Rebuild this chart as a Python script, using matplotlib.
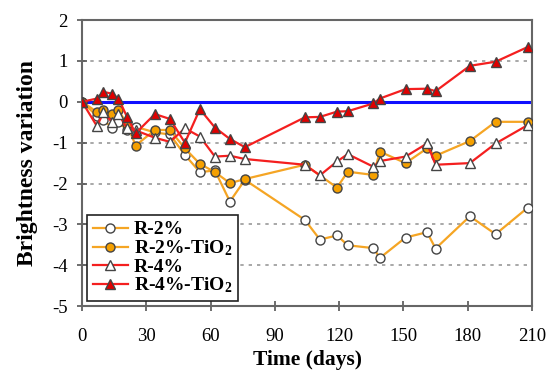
import matplotlib
matplotlib.use("Agg")
import matplotlib.pyplot as plt

plt.rcParams['font.family'] = ['Liberation Serif', 'DejaVu Serif']
plt.rcParams['mathtext.fontset'] = 'custom'
plt.rcParams['mathtext.rm'] = 'Liberation Serif'
plt.rcParams['mathtext.bf'] = 'Liberation Serif:bold'
plt.rcParams['mathtext.default'] = 'bf'
plt.rcParams['axes.unicode_minus'] = False

# data
days = [0, 7, 10, 14, 17, 21, 25, 34, 41, 48, 55, 62, 69, 76,
        104, 111, 119, 124, 136, 139, 151, 161, 165, 181, 193, 208]
days_tio2 = [0, 7, 10, 14, 17, 21, 25, 34, 41, 48, 55, 62, 69, 76,
             104, 119, 124, 136, 139, 151, 161, 165, 181, 193, 208]

r2 = [0, -0.35, -0.45, -0.63, -0.5, -0.69, -0.61, -0.75, -0.8, -1.3, -1.72, -1.68, -2.44, -1.91,
      -2.89, -3.37, -3.27, -3.51, -3.58, -3.82, -3.32, -3.19, -3.59, -2.8, -3.24, -2.59]
r2_tio2 = [0, -0.25, -0.2, -0.3, -0.2, -0.55, -1.07, -0.69, -0.69, -1.14, -1.52, -1.72, -1.99, -1.89,
           -1.54, -2.1, -1.71, -1.79, -1.22, -1.5, -1.14, -1.32, -0.96, -0.49, -0.49]
r4 = [0, -0.6, -0.25, -0.5, -0.3, -0.65, -0.7, -0.88, -0.98, -0.65, -0.85, -1.34, -1.32, -1.4,
      -1.54, -1.8, -1.46, -1.28, -1.59, -1.45, -1.34, -1.02, -1.54, -1.5, -1.02, -0.57]
r4_tio2 = [0, 0.08, 0.24, 0.2, 0.08, -0.37, -0.77, -0.3, -0.42, -1.0, -0.18, -0.63, -0.91, -1.11,
           -0.38, -0.37, -0.24, -0.23, -0.04, 0.08, 0.31, 0.32, 0.26, 0.88, 0.98, 1.34]

orange = '#F5A524'
red = '#F41F1F'
edge = '#444444'

fig = plt.figure(figsize=(5.47, 3.78), dpi=100)
ax = fig.add_axes([0.15, 0.19, 0.8226, 0.757])

ax.axhline(0, color='#1010FF', lw=2.2, zorder=1)
for yy in [1, -1, -2, -3, -4]:
    ax.axhline(yy, color='#999999', lw=1.2, ls=(0, (2, 3)), zorder=0)

ax.plot(days, r2, '-o', color=orange, lw=1.6, ms=6.5, mfc='white', mec=edge, mew=1.0,
        label='R-2%', zorder=3)
ax.plot(days_tio2, r2_tio2, '-o', color=orange, lw=1.6, ms=6.5, mfc='#F5A000', mec=edge, mew=1.0,
        label='R-2%-TiO$_2$', zorder=4)
ax.plot(days, r4, '-^', color=red, lw=1.6, ms=7.5, mfc='white', mec=edge, mew=1.0,
        label='R-4%', zorder=5)
ax.plot(days, r4_tio2, '-^', color=red, lw=1.6, ms=7.5, mfc='#E00000', mec=edge, mew=1.0,
        label='R-4%-TiO$_2$', zorder=6)

ax.set_xlim(0, 210)
ax.set_ylim(-5, 2)
ax.set_xticks(range(0, 211, 30))
ax.set_yticks(range(-5, 3))
ax.tick_params(direction='inout', length=7, width=1.2, colors='#555555', labelcolor='black',
               labelsize=13.5)
ax.tick_params(axis='x', pad=12)
ax.tick_params(axis='y', pad=7)
for s in ax.spines.values():
    s.set_color('#666666')
    s.set_linewidth(1.5)

ax.set_xlabel('Time (days)', fontsize=15.5, fontweight='bold', labelpad=4)
ax.set_ylabel('Brightness variation', fontsize=17, fontweight='bold', labelpad=10)

leg = ax.legend(loc='lower left', prop={'weight': 'bold', 'size': 14}, fancybox=False,
                edgecolor='#222222', framealpha=1, borderpad=0.3, labelspacing=0.0,
                handlelength=1.8, handletextpad=0.3, borderaxespad=0.25)
leg.get_frame().set_linewidth(1.2)

fig.savefig('out.png', dpi=100)
